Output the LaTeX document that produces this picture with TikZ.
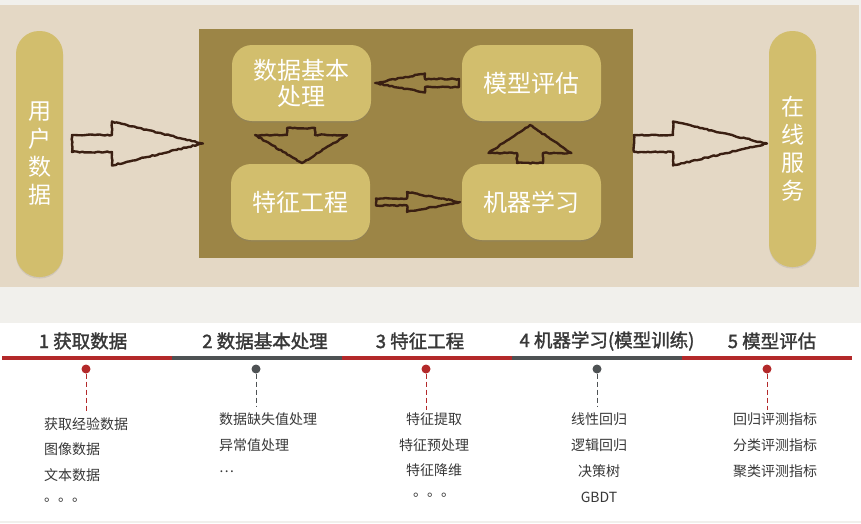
\documentclass[tikz,border=0pt]{standalone}
\usepackage{fontspec}
\setmainfont{Noto Sans CJK SC}
\newfontfamily\headfont{Noto Sans CJK SC}[FakeBold=1.6]
\usetikzlibrary{calc,decorations.pathmorphing,shadows}
\definecolor{pagegray}{HTML}{F1F0EC}
\definecolor{parch}{HTML}{E4D8C5}
\definecolor{olivebox}{HTML}{9C8546}
\definecolor{pillcol}{HTML}{D2BE6D}
\definecolor{ink}{HTML}{3A1F12}
\definecolor{tred}{HTML}{B3292A}
\definecolor{tgray}{HTML}{4E5254}
\definecolor{txt}{HTML}{383838}
\tikzset{
  stagebox/.style={fill=pillcol, rounded corners=20pt, minimum width=139pt, minimum height=76pt,
    text=white, font=\fontsize{24}{26}\selectfont, align=center, inner sep=0pt,
    drop shadow={shadow xshift=0pt, shadow yshift=-1.5pt, opacity=0.25}},
  pillbox/.style={fill=pillcol, rounded corners=23pt, minimum width=47pt,
    text=white, font=\fontsize{23}{28}\selectfont, align=center, inner sep=0pt,
    drop shadow={shadow xshift=0pt, shadow yshift=-1.5pt, opacity=0.2}},
  sketch/.style={draw=ink, line width=2.4pt, line join=round,
    decorate, decoration={random steps, segment length=2.5pt, amplitude=0.6pt}},
  headtext/.style={font=\headfont\fontsize{18.5}{21}\selectfont, text=txt, inner sep=0pt},
  itemtext/.style={font=\fontsize{14}{16}\selectfont, text=txt, inner sep=0pt},
  redseg/.style={draw=tred, line width=3.5pt},
  grayseg/.style={draw=tgray, line width=3.5pt},
  reddot/.style={circle, fill=tred, inner sep=0pt, minimum size=9pt},
  graydot/.style={circle, fill=tgray, inner sep=0pt, minimum size=9pt},
  reddash/.style={draw=tred, line width=1pt, dash pattern=on 5pt off 3pt},
  graydash/.style={draw=tgray, line width=1pt, dash pattern=on 5pt off 3pt},
}
% horizontal block arrow: tail, head base, tip, shaft half-width, head half-width
\newcommand\harrowshape[5]{%
  \draw[sketch] ($(#1)+(0,-#4)$) -- ($(#2)+(0,-#4)$) -- ($(#2)+(0,-#5)$) -- (#3)
    -- ($(#2)+(0,#5)$) -- ($(#2)+(0,#4)$) -- ($(#1)+(0,#4)$) -- cycle;}
% vertical block arrow
\newcommand\varrowshape[5]{%
  \draw[sketch] ($(#1)+(-#4,0)$) -- ($(#2)+(-#4,0)$) -- ($(#2)+(-#5,0)$) -- (#3)
    -- ($(#2)+(#5,0)$) -- ($(#2)+(#4,0)$) -- ($(#1)+(#4,0)$) -- cycle;}
\begin{document}
\begin{tikzpicture}[x=1pt,y=-1pt]
\pgfmathsetseed{11}
\useasboundingbox (0,0) rectangle (861,523);
\fill[pagegray] (0,0) rectangle (861,523);
% top panel
\fill[parch] (0,5) rectangle (859,287);
\fill[olivebox] (199,29) rectangle (633,258);
\node[pillbox, minimum height=246pt] (user) at (39.5,154) {用\\户\\数\\据};
\node[pillbox, minimum height=236pt] (serve) at (792.5,149) {在\\线\\服\\务};
\node[stagebox] (basic) at (301.5,83) {数据基本\\处理};
\node[stagebox] (feat) at (300.5,202) {特征工程};
\node[stagebox] (eval) at (531.5,83) {模型评估};
\node[stagebox] (ml) at (531.5,202) {机器学习};
% arrows
\coordinate (a1t) at (72,143.5);  \coordinate (a1b) at (112,143.5); \coordinate (a1p) at (203,143.5);
\harrowshape{a1t}{a1b}{a1p}{8.5}{22}
\coordinate (a2t) at (459,83);   \coordinate (a2b) at (425,83);   \coordinate (a2p) at (375,83);
\harrowshape{a2t}{a2b}{a2p}{4}{9.5}
\coordinate (a3t) at (376,202);  \coordinate (a3b) at (407,202);  \coordinate (a3p) at (460,202);
\harrowshape{a3t}{a3b}{a3p}{3.5}{10}
\coordinate (a4t) at (301,128);  \coordinate (a4b) at (301,135);  \coordinate (a4p) at (302,163);
\varrowshape{a4t}{a4b}{a4p}{14}{46}
\coordinate (a5t) at (530,163);  \coordinate (a5b) at (530,153);  \coordinate (a5p) at (530,125);
\varrowshape{a5t}{a5b}{a5p}{13}{41.5}
\coordinate (a6t) at (634,143.5); \coordinate (a6b) at (673,143.5); \coordinate (a6p) at (767,143.5);
\harrowshape{a6t}{a6b}{a6p}{8.5}{22}
% bottom timeline
\fill[white] (0,323) rectangle (861,521);
\node[headtext] (h1) at (83,341) {1 获取数据};
\node[headtext] (h2) at (265,341) {2 数据基本处理};
\node[headtext] (h3) at (420,341) {3 特征工程};
\node[headtext] (h4) at (607,341) {4 机器学习(模型训练)};
\node[headtext] (h5) at (772,341) {5 模型评估};
\draw[redseg] (2,358) -- (172,358);
\draw[grayseg] (172,358) -- (342,358);
\draw[redseg] (342,358) -- (512,358);
\draw[grayseg] (512,358) -- (682,358);
\draw[redseg] (682,358) -- (852,358);
\node[reddot] (d1) at (86,369) {};
\node[graydot] (d2) at (256,369) {};
\node[reddot] (d3) at (426,369) {};
\node[graydot] (d4) at (597,369) {};
\node[reddot] (d5) at (767,369) {};
\coordinate (e1) at (86,412); \coordinate (e2) at (256,407); \coordinate (e3) at (426,410);
\coordinate (e4) at (597,407); \coordinate (e5) at (767,410);
\draw[reddash] (d1) -- (e1);
\draw[graydash] (d2) -- (e2);
\draw[reddash] (d3) -- (e3);
\draw[graydash] (d4) -- (e4);
\draw[reddash] (d5) -- (e5);
% column 1
\node[itemtext, anchor=west] (c1a) at (44,424) {获取经验数据};
\node[itemtext, anchor=west] (c1b) at (44,449) {图像数据};
\node[itemtext, anchor=west] (c1c) at (44,475) {文本数据};
\node[itemtext, anchor=west] (c1d) at (44,500) {。。。};
% column 2
\node[itemtext, anchor=west] (c2a) at (219,419) {数据缺失值处理};
\node[itemtext, anchor=west] (c2b) at (219,445) {异常值处理};
\node[itemtext, anchor=west] (c2c) at (219,472) {…};
% column 3
\node[itemtext] (c3a) at (434,419) {特征提取};
\node[itemtext] (c3b) at (434,445) {特征预处理};
\node[itemtext] (c3c) at (434,470) {特征降维};
\node[itemtext] (c3d) at (434,495) {。。。};
% column 4
\node[itemtext] (c4a) at (599,419) {线性回归};
\node[itemtext] (c4b) at (599,445) {逻辑回归};
\node[itemtext] (c4c) at (599,471) {决策树};
\node[itemtext] (c4d) at (599,497) {GBDT};
% column 5
\node[itemtext] (c5a) at (775,419) {回归评测指标};
\node[itemtext] (c5b) at (775,445) {分类评测指标};
\node[itemtext] (c5c) at (775,471) {聚类评测指标};
\end{tikzpicture}
\end{document}
